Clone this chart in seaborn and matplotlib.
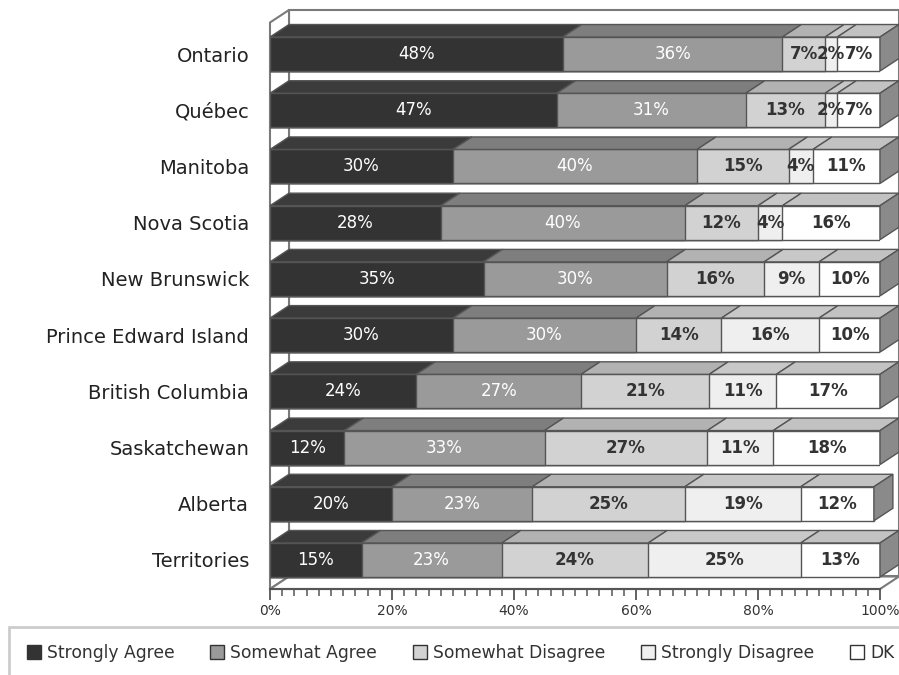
import numpy as np
import pandas as pd
import matplotlib
matplotlib.use("Agg")
import matplotlib.pyplot as plt
import seaborn as sns
from matplotlib.patches import Polygon, Rectangle, Patch
from matplotlib.ticker import MultipleLocator, FuncFormatter

# ---------------- data ----------------
provinces = ["Ontario", "Québec", "Manitoba", "Nova Scotia", "New Brunswick",
             "Prince Edward Island", "British Columbia", "Saskatchewan",
             "Alberta", "Territories"]
series = ["Strongly Agree", "Somewhat Agree", "Somewhat Disagree",
          "Strongly Disagree", "DK"]
strongly_agree = [48, 47, 30, 28, 35, 30, 24, 12.2, 20, 15]
somewhat_agree = [36, 31, 40, 40, 30, 30, 27, 32.8, 23, 23]
somewhat_disagree = [7, 13, 15, 12, 16, 14, 21, 26.7, 25, 24]
strongly_disagree = [2, 2, 4, 4, 9, 16, 11, 10.8, 19, 25]
dk = [7, 7, 11, 16, 10, 10, 17, 17.5, 12, 13]
x_ticks = [0, 20, 40, 60, 80, 100]

# ---------------- style ----------------
front_colors = ["#333333", "#9a9a9a", "#d2d2d2", "#efefef", "#ffffff"]
top_colors = ["#3b3b3b", "#7e7e7e", "#b2b2b2", "#c8c8c8", "#c2c2c2"]
text_colors = ["white", "white", "#333333", "#333333", "#333333"]
text_weights = ["normal", "normal", "bold", "bold", "bold"]
side_color = "#8a8a8a"
edge = "#555555"
wall_edge = "#7a7a7a"

sns.set_style("white")
plt.rcParams["font.family"] = ["DejaVu Sans"]

W, H = 899, 675
fig = plt.figure(figsize=(W / 100, H / 100), dpi=100)
ax = fig.add_axes([270 / W, (H - 589) / H, 610 / W, (589 - 10) / H])

values = np.array([strongly_agree, somewhat_agree, somewhat_disagree,
                   strongly_disagree, dk], dtype=float)
cum = values.cumsum(axis=0)
n = len(provinces)

BAR_H = 0.605
DX = 19 / 6.1          # depth in x (data units, %)
DY = 12.5 / 56.2       # depth in y (category units)
Y_TOP = -0.783
Y_BOT = n - 1 + 0.516

# walls (behind bars)
xmax = x_ticks[-1]
ax.add_patch(Rectangle((DX, Y_TOP), xmax, (Y_BOT - DY) - Y_TOP,
                       facecolor="white", edgecolor=wall_edge, lw=1.5,
                       zorder=0.2, clip_on=False))
ax.add_patch(Polygon([(0, Y_BOT), (0, Y_TOP + DY), (DX, Y_TOP), (DX, Y_BOT - DY)],
                     closed=True, facecolor="white", edgecolor=wall_edge, lw=1.5,
                     zorder=0.3, clip_on=False))
ax.add_patch(Polygon([(0, Y_BOT), (xmax, Y_BOT), (xmax + DX, Y_BOT - DY), (DX, Y_BOT - DY)],
                     closed=True, facecolor="white", edgecolor=wall_edge, lw=1.5,
                     zorder=0.3, clip_on=False))

# front faces: cumulative bars drawn from the last series backwards
for i in range(len(series) - 1, -1, -1):
    df = pd.DataFrame({"province": provinces, "cum": cum[i]})
    sns.barplot(data=df, x="cum", y="province", order=provinces, orient="h",
                color=front_colors[i], saturation=1, width=BAR_H,
                edgecolor=edge, linewidth=1.0, ax=ax, zorder=2)

# 3D top faces and right side faces, derived from the data
for j in range(n):
    yt = j - BAR_H / 2
    yb = j + BAR_H / 2
    for i in range(len(series)):
        left = cum[i, j] - values[i, j]
        right = cum[i, j]
        ax.add_patch(Polygon([(left, yt), (right, yt), (right + DX, yt - DY), (left + DX, yt - DY)],
                             closed=True, facecolor=top_colors[i], edgecolor=edge,
                             lw=1.0, zorder=2, clip_on=False))
    tot = cum[-1, j]
    ax.add_patch(Polygon([(tot, yt), (tot + DX, yt - DY), (tot + DX, yb - DY), (tot, yb)],
                         closed=True, facecolor=side_color, edgecolor=edge,
                         lw=1.0, zorder=2, clip_on=False))
    # value labels
    for i in range(len(series)):
        cx = cum[i, j] - values[i, j] / 2
        ax.text(cx, j, f"{round(values[i, j]):.0f}%", ha="center", va="center",
                color=text_colors[i], fontsize=12, fontweight=text_weights[i],
                zorder=5)

# axes
ax.set_xlim(0, xmax)
ax.set_ylim(Y_BOT, Y_TOP)
ax.set_xlabel("")
ax.set_ylabel("")
for s in ["top", "right", "left"]:
    ax.spines[s].set_visible(False)
ax.spines["bottom"].set_color("#555555")
ax.spines["bottom"].set_linewidth(1.5)
ax.spines["bottom"].set_zorder(3)
ax.set_xticks(x_ticks)
ax.xaxis.set_minor_locator(MultipleLocator(2))
ax.xaxis.set_major_formatter(FuncFormatter(lambda v, p: f"{int(v)}%"))
ax.tick_params(axis="x", which="major", direction="out", length=8, width=1.3,
               color="#555555", labelsize=10, labelcolor="#333333", pad=3, bottom=True)
ax.tick_params(axis="x", which="minor", direction="out", length=5, width=1.1,
               color="#555555", bottom=True)
ax.tick_params(axis="y", length=0, labelsize=14, labelcolor="#222222", pad=15)
ax.grid(False)

# legend with its own frame
fig.add_artist(Rectangle((9 / W, -0.02), 1.0, 1 - 627 / H + 0.02,
                         transform=fig.transFigure, facecolor="none",
                         edgecolor="#cccccc", lw=2))
handles = [Patch(facecolor=c, edgecolor="#333333", lw=1) for c in front_colors]
fig.legend(handles, series, loc="center left", bbox_to_anchor=(27 / W, 1 - 653 / H),
           ncol=5, frameon=False, fontsize=12.3, handlelength=0.82, handleheight=0.82,
           handletextpad=0.35, columnspacing=2.1, borderpad=0, borderaxespad=0,
           labelcolor="#333333")

fig.savefig("out.png", dpi=100)
